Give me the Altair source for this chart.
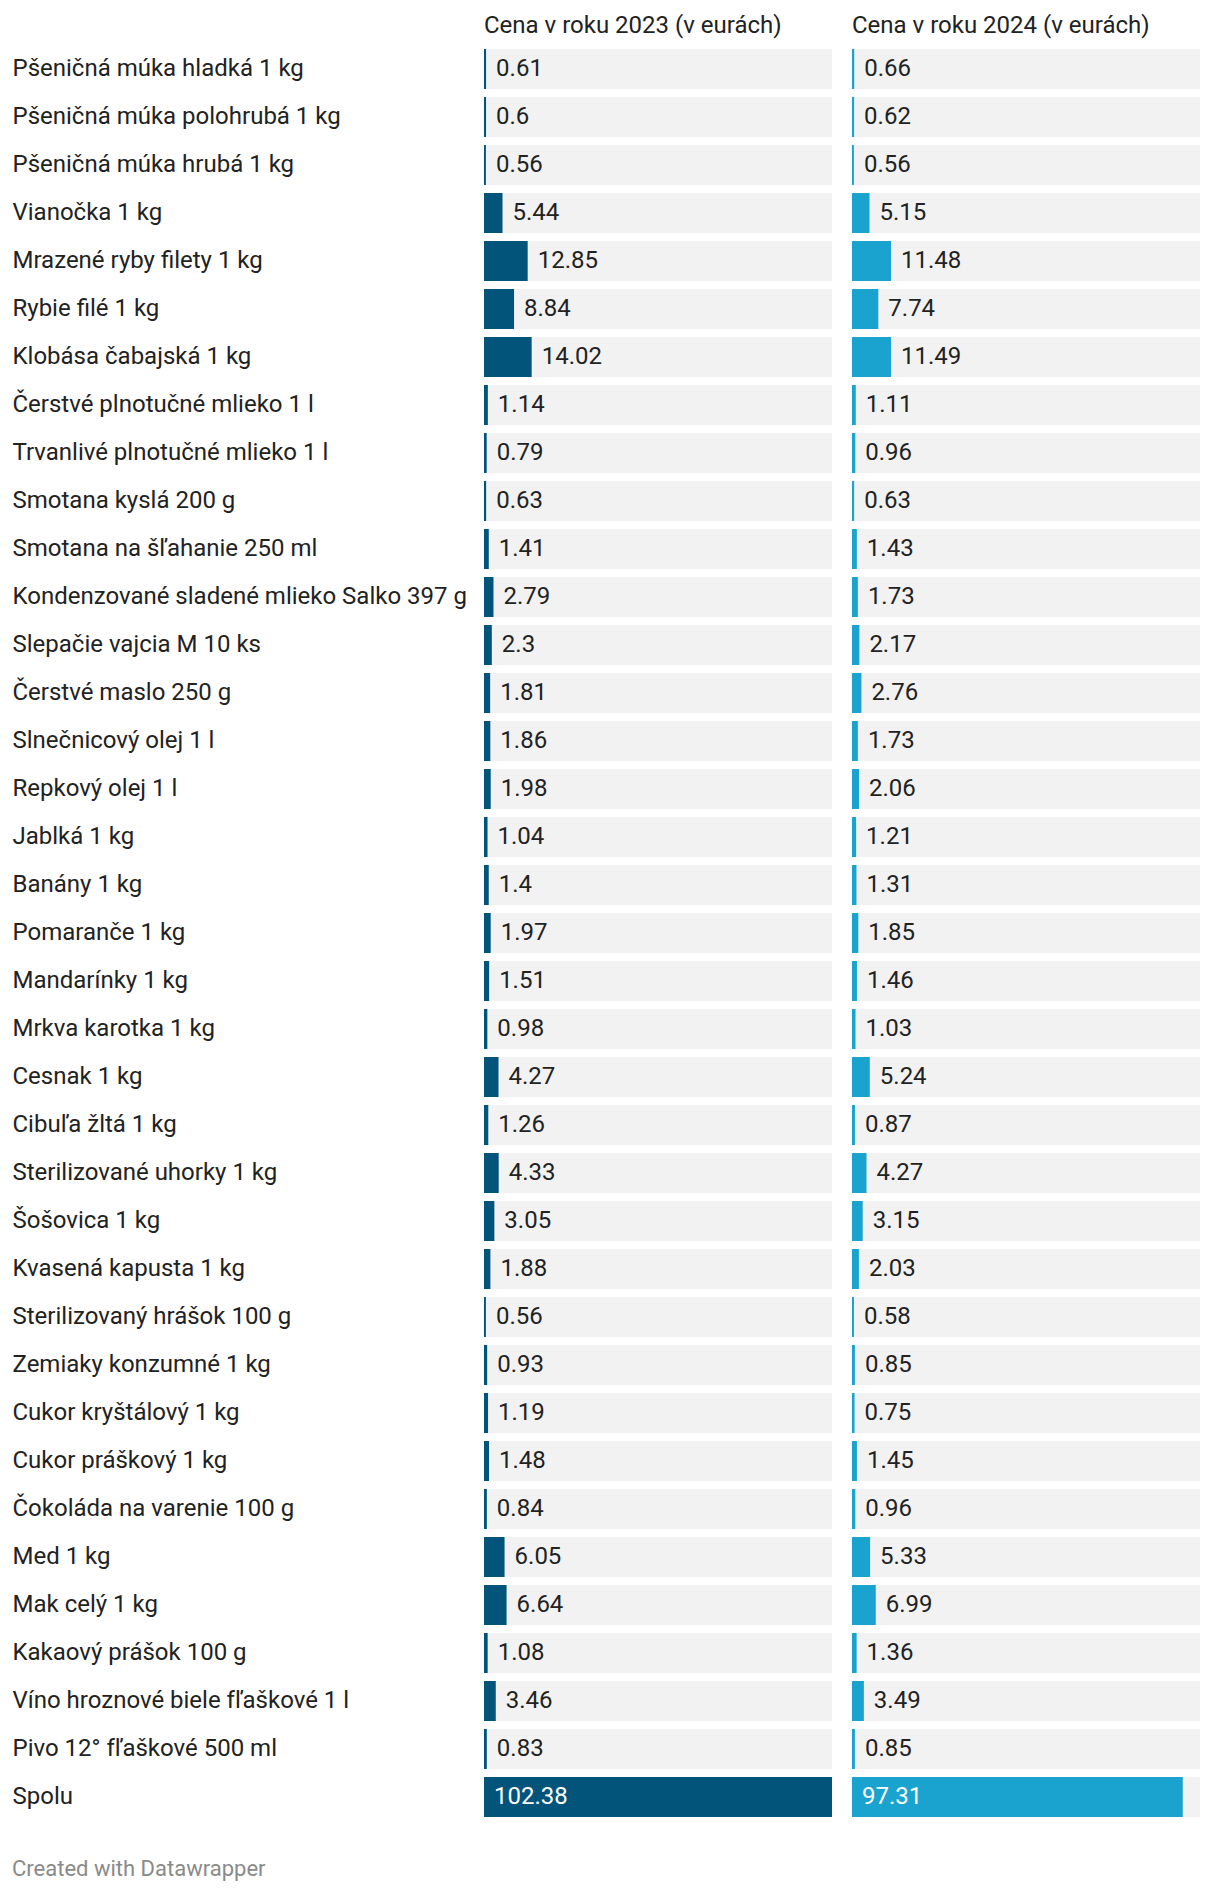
import altair as alt
import pandas as pd

items = [
    "Pšeničná múka hladká 1 kg",
    "Pšeničná múka polohrubá 1 kg",
    "Pšeničná múka hrubá 1 kg",
    "Vianočka 1 kg",
    "Mrazené ryby filety 1 kg",
    "Rybie filé 1 kg",
    "Klobása čabajská 1 kg",
    "Čerstvé plnotučné mlieko 1 l",
    "Trvanlivé plnotučné mlieko 1 l",
    "Smotana kyslá 200 g",
    "Smotana na šľahanie 250 ml",
    "Kondenzované sladené mlieko Salko 397 g",
    "Slepačie vajcia M 10 ks",
    "Čerstvé maslo 250 g",
    "Slnečnicový olej 1 l",
    "Repkový olej 1 l",
    "Jablká 1 kg",
    "Banány 1 kg",
    "Pomaranče 1 kg",
    "Mandarínky 1 kg",
    "Mrkva karotka 1 kg",
    "Cesnak 1 kg",
    "Cibuľa žltá 1 kg",
    "Sterilizované uhorky 1 kg",
    "Šošovica 1 kg",
    "Kvasená kapusta 1 kg",
    "Sterilizovaný hrášok 100 g",
    "Zemiaky konzumné 1 kg",
    "Cukor kryštálový 1 kg",
    "Cukor práškový 1 kg",
    "Čokoláda na varenie 100 g",
    "Med 1 kg",
    "Mak celý 1 kg",
    "Kakaový prášok 100 g",
    "Víno hroznové biele fľaškové 1 l",
    "Pivo 12° fľaškové 500 ml",
    "Spolu",
]

prices_2023 = [0.61, 0.6, 0.56, 5.44, 12.85, 8.84, 14.02, 1.14, 0.79, 0.63, 1.41, 2.79,
               2.3, 1.81, 1.86, 1.98, 1.04, 1.4, 1.97, 1.51, 0.98, 4.27, 1.26, 4.33,
               3.05, 1.88, 0.56, 0.93, 1.19, 1.48, 0.84, 6.05, 6.64, 1.08, 3.46, 0.83,
               102.38]

prices_2024 = [0.66, 0.62, 0.56, 5.15, 11.48, 7.74, 11.49, 1.11, 0.96, 0.63, 1.43, 1.73,
               2.17, 2.76, 1.73, 2.06, 1.21, 1.31, 1.85, 1.46, 1.03, 5.24, 0.87, 4.27,
               3.15, 2.03, 0.58, 0.85, 0.75, 1.45, 0.96, 5.33, 6.99, 1.36, 3.49, 0.85,
               97.31]

titles = ["Cena v roku 2023 (v eurách)", "Cena v roku 2024 (v eurách)"]
colors = ["#03547b", "#1ba3cf"]
total_label = "Spolu"
footer = "Created with Datawrapper"

FONT = "Roboto"
FS = 24
TEXT_COLOR = "#222222"
BG = "#f2f2f2"
max_val = max(prices_2023 + prices_2024)


def panel(values, title, color, show_labels):
    df = pd.DataFrame({
        "item": items,
        "value": values,
        "label": [str(v) for v in values],
        "zero": [0.0] * len(values),
        "full": [max_val] * len(values),
        "total": [it == total_label for it in items],
    })
    if show_labels:
        yaxis = alt.Axis(title=None, domain=False, ticks=False, tickSize=0,
                         labelAlign="left", labelPadding=472, labelLimit=0,
                         labelFont=FONT, labelFontSize=FS, labelColor=TEXT_COLOR,
                         labelBaseline="middle")
    else:
        yaxis = None
    y = alt.Y("item:N", sort=items, axis=yaxis,
              scale=alt.Scale(paddingInner=8 / 48, paddingOuter=4 / 48))
    xscale = alt.Scale(domain=[0, max_val], nice=False, zero=True)

    base = alt.Chart(df)
    bg = base.mark_bar(color=BG).encode(
        y=y, x=alt.X("zero:Q", scale=xscale, axis=None), x2="full:Q")
    bars = base.mark_bar(color=color).encode(
        y=y, x=alt.X("value:Q", scale=xscale, axis=None))
    txt = base.transform_filter("!datum.total").mark_text(
        align="left", baseline="middle", dx=10, font=FONT, fontSize=FS,
        color=TEXT_COLOR).encode(
        y=y, x=alt.X("value:Q", scale=xscale, axis=None), text="label:N")
    txt_total = base.transform_filter("datum.total").mark_text(
        align="left", baseline="middle", dx=10, font=FONT, fontSize=FS,
        color="white").encode(
        y=y, x=alt.X("zero:Q", scale=xscale, axis=None), text="label:N")

    return alt.layer(bg, bars, txt, txt_total).properties(
        width=348, height=alt.Step(48),
        title=alt.TitleParams(title, anchor="start", frame="group", font=FONT,
                              fontSize=FS, fontWeight="normal", color=TEXT_COLOR,
                              offset=7),
    )


chart = alt.hconcat(
    panel(prices_2023, titles[0], colors[0], True),
    panel(prices_2024, titles[1], colors[1], False),
    spacing=20,
).properties(
    padding={"left": 12, "top": 14, "right": 20, "bottom": 14},
    background="white",
    title=alt.TitleParams(footer, orient="bottom", anchor="start", frame="bounds",
                          font=FONT, fontSize=22, fontWeight="normal",
                          color="#8a8a8a", offset=38),
).configure_view(stroke=None)

chart.save("out.html", embed_options={"renderer": "svg", "actions": False})
